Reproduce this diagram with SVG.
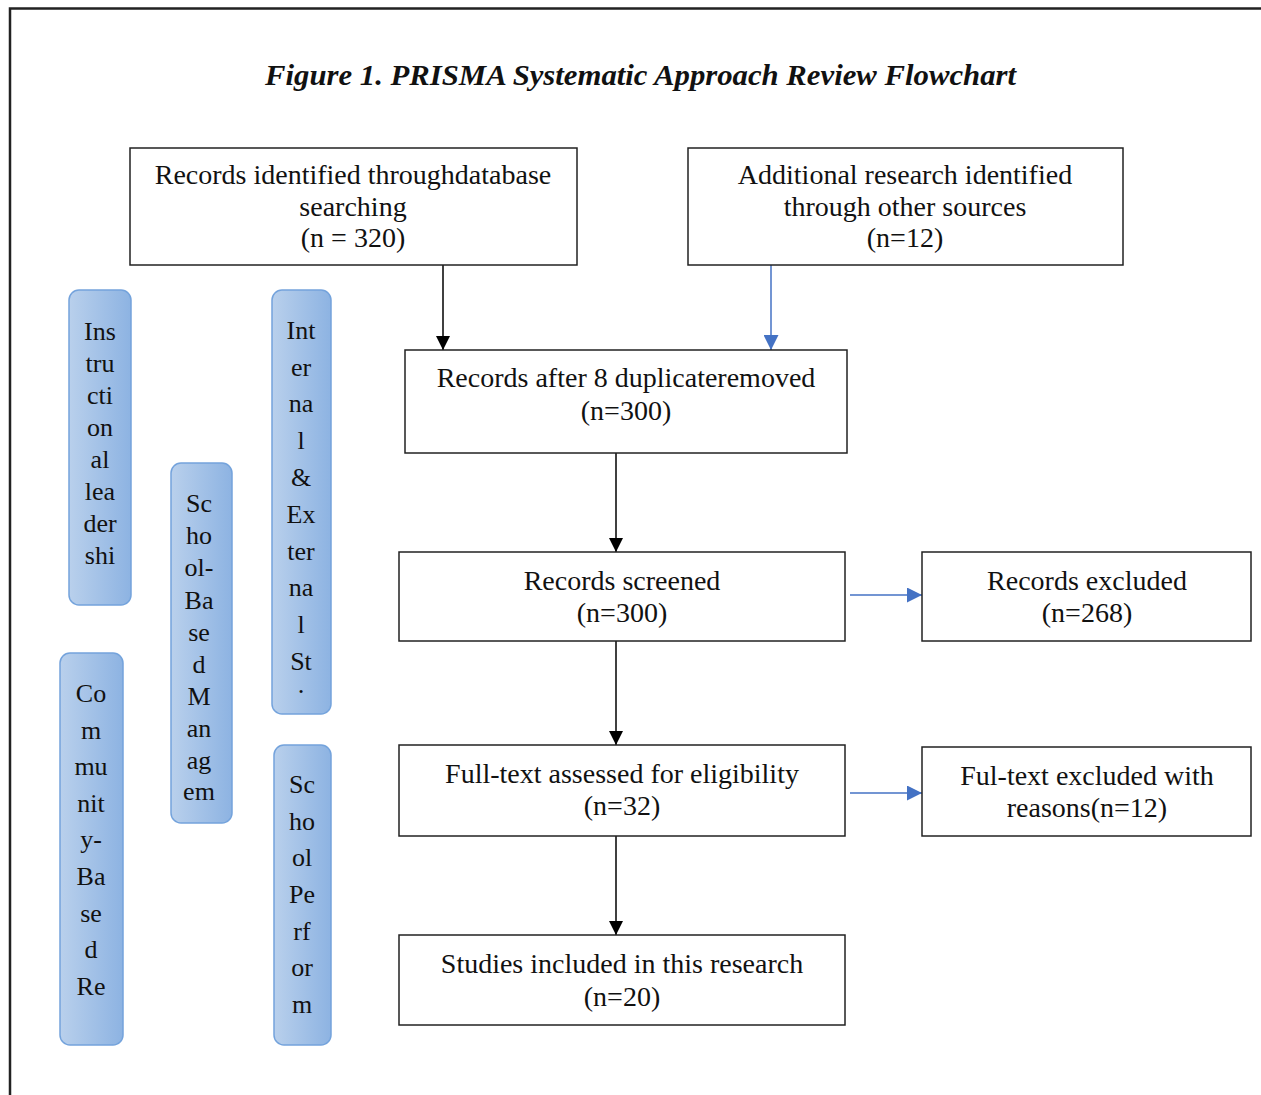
<svg xmlns="http://www.w3.org/2000/svg" width="1261" height="1095" viewBox="0 0 1261 1095">
<defs>
<linearGradient id="bg" x1="0" y1="0" x2="1" y2="0">
<stop offset="0" stop-color="#b9d0ec"/>
<stop offset="1" stop-color="#8db3e2"/>
</linearGradient>
<marker id="ak" viewBox="0 0 10 10" refX="10" refY="5" markerWidth="14" markerHeight="14" markerUnits="userSpaceOnUse" orient="auto"><path d="M0,0 L10,5 L0,10 Z" fill="#000"/></marker>
<marker id="ab" viewBox="0 0 10 10" refX="10" refY="5" markerWidth="15" markerHeight="15" markerUnits="userSpaceOnUse" orient="auto"><path d="M0,0 L10,5 L0,10 Z" fill="#4472c4"/></marker>
</defs>
<style>
.box{fill:#fff;stroke:#222;stroke-width:1.5}
.side{fill:url(#bg);stroke:#74a3dc;stroke-width:1.5}
.t{font-family:"Liberation Serif","Times New Roman",serif;font-size:28px;fill:#111;text-anchor:middle}
.v{font-family:"Liberation Serif","Times New Roman",serif;font-size:26px;fill:#111;text-anchor:middle}
.title{font-family:"Liberation Serif","Times New Roman",serif;font-size:29px;font-weight:bold;font-style:italic;fill:#111}
.ck{stroke:#000;stroke-width:1.5;fill:none;marker-end:url(#ak)}
.cb{stroke:#4472c4;stroke-width:1.5;fill:none;marker-end:url(#ab)}
</style>
<rect width="1261" height="1095" fill="#fff"/>
<path d="M10,1095 L10,8.5 L1261,8.5" fill="none" stroke="#222" stroke-width="2.5"/>
<text class="title" x="265" y="85" textLength="751" lengthAdjust="spacingAndGlyphs">Figure 1. PRISMA Systematic Approach Review Flowchart</text>

<g id="connectors">
<line class="ck" x1="443" y1="265" x2="443" y2="350"/>
<line class="cb" x1="771" y1="265" x2="771" y2="350"/>
<line class="ck" x1="616" y1="453" x2="616" y2="552"/>
<line class="ck" x1="616" y1="641" x2="616" y2="745"/>
<line class="ck" x1="616" y1="836" x2="616" y2="935"/>
<line class="cb" x1="850" y1="595" x2="922" y2="595"/>
<line class="cb" x1="850" y1="793" x2="922" y2="793"/>
</g>

<g id="n-identified">
<rect class="box" x="130" y="148" width="447" height="117"/>
<text class="t" x="353" y="184">Records identified throughdatabase</text>
<text class="t" x="353" y="216">searching</text>
<text class="t" x="353" y="247">(n = 320)</text>
</g>
<g id="n-additional">
<rect class="box" x="688" y="148" width="435" height="117"/>
<text class="t" x="905" y="184">Additional research identified</text>
<text class="t" x="905" y="216">through other sources</text>
<text class="t" x="905" y="247">(n=12)</text>
</g>
<g id="n-duplicates">
<rect class="box" x="405" y="350" width="442" height="103"/>
<text class="t" x="626" y="387">Records after 8 duplicateremoved</text>
<text class="t" x="626" y="420">(n=300)</text>
</g>
<g id="n-screened">
<rect class="box" x="399" y="552" width="446" height="89"/>
<text class="t" x="622" y="590">Records screened</text>
<text class="t" x="622" y="622">(n=300)</text>
</g>
<g id="n-excluded">
<rect class="box" x="922" y="552" width="329" height="89"/>
<text class="t" x="1087" y="590">Records excluded</text>
<text class="t" x="1087" y="622">(n=268)</text>
</g>
<g id="n-fulltext">
<rect class="box" x="399" y="745" width="446" height="91"/>
<text class="t" x="622" y="783">Full-text assessed for eligibility</text>
<text class="t" x="622" y="815">(n=32)</text>
</g>
<g id="n-fulexcluded">
<rect class="box" x="922" y="747" width="329" height="89"/>
<text class="t" x="1087" y="785">Ful-text excluded with</text>
<text class="t" x="1087" y="817">reasons(n=12)</text>
</g>
<g id="n-included">
<rect class="box" x="399" y="935" width="446" height="90"/>
<text class="t" x="622" y="973">Studies included in this research</text>
<text class="t" x="622" y="1006">(n=20)</text>
</g>

<g id="s-instructional">
<rect class="side" x="69" y="290" width="62" height="315" rx="10"/>
<text class="v" x="100" y="340">Ins</text>
<text class="v" x="100" y="372">tru</text>
<text class="v" x="100" y="404">cti</text>
<text class="v" x="100" y="436">on</text>
<text class="v" x="100" y="468">al</text>
<text class="v" x="100" y="500">lea</text>
<text class="v" x="100" y="532">der</text>
<text class="v" x="100" y="564">shi</text>
</g>
<g id="s-internal">
<rect class="side" x="272" y="290" width="59" height="424" rx="10"/>
<text class="v" x="301" y="339">Int</text>
<text class="v" x="301" y="376">er</text>
<text class="v" x="301" y="412">na</text>
<text class="v" x="301" y="449">l</text>
<text class="v" x="301" y="486">&amp;</text>
<text class="v" x="301" y="523">Ex</text>
<text class="v" x="301" y="560">ter</text>
<text class="v" x="301" y="596">na</text>
<text class="v" x="301" y="633">l</text>
<text class="v" x="301" y="670">St</text>
<text class="v" x="301" y="700">·</text>
</g>
<g id="s-schoolbased">
<rect class="side" x="171" y="463" width="61" height="360" rx="10"/>
<text class="v" x="199" y="512">Sc</text>
<text class="v" x="199" y="544">ho</text>
<text class="v" x="199" y="576">ol-</text>
<text class="v" x="199" y="609">Ba</text>
<text class="v" x="199" y="641">se</text>
<text class="v" x="199" y="673">d</text>
<text class="v" x="199" y="705">M</text>
<text class="v" x="199" y="737">an</text>
<text class="v" x="199" y="769">ag</text>
<text class="v" x="199" y="800">em</text>
</g>
<g id="s-community">
<rect class="side" x="60" y="653" width="63" height="392" rx="10"/>
<text class="v" x="91" y="702">Co</text>
<text class="v" x="91" y="739">m</text>
<text class="v" x="91" y="775">mu</text>
<text class="v" x="91" y="812">nit</text>
<text class="v" x="91" y="848">y-</text>
<text class="v" x="91" y="885">Ba</text>
<text class="v" x="91" y="922">se</text>
<text class="v" x="91" y="958">d</text>
<text class="v" x="91" y="995">Re</text>
</g>
<g id="s-performance">
<rect class="side" x="274" y="745" width="57" height="300" rx="10"/>
<text class="v" x="302" y="793">Sc</text>
<text class="v" x="302" y="830">ho</text>
<text class="v" x="302" y="866">ol</text>
<text class="v" x="302" y="903">Pe</text>
<text class="v" x="302" y="940">rf</text>
<text class="v" x="302" y="976">or</text>
<text class="v" x="302" y="1013">m</text>
</g>
</svg>
